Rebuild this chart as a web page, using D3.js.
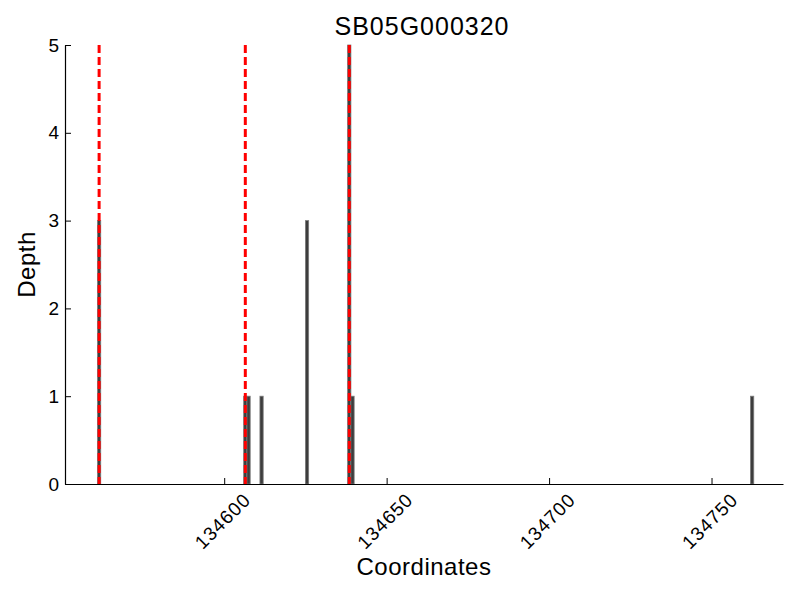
<!DOCTYPE html>
<html>
<head>
<meta charset="utf-8">
<script src="https://cdn.jsdelivr.net/npm/d3@7"></script>
<style>
  body { margin: 0; background: #fff; }
  text { font-family: "Liberation Sans", Arial, sans-serif; }
</style>
</head>
<body>
<svg id="chart" width="800" height="600"></svg>
<script>
const title = "SB05G000320";
const positions = [134561, 134606, 134607, 134611, 134625, 134638, 134639, 134762];
const depths    = [3, 1, 1, 1, 3, 5, 1, 1];
const markerPositions = [134561.5, 134606.5, 134638.5];
const xTicks = [134600, 134650, 134700, 134750];
const yTicks = [0, 1, 2, 3, 4, 5];
const xDomain = [134551, 134772];
const yDomain = [0, 5];

const svg = d3.select("#chart");
const margin = {left: 65, right: 17, top: 45, bottom: 116};
const W = 800, H = 600;

const x = d3.scaleLinear().domain(xDomain).range([margin.left, W - margin.right]);
const y = d3.scaleLinear().domain(yDomain).range([H - margin.bottom, margin.top]);

const data = positions.map((p, i) => ({pos: p, depth: depths[i]}));

// bars
svg.append("g").selectAll("rect").data(data).join("rect")
  .attr("x", d => x(d.pos))
  .attr("width", d => x(d.pos + 1) - x(d.pos))
  .attr("y", d => y(d.depth))
  .attr("height", d => y(0) - y(d.depth))
  .attr("fill", "#3d3d3d")
  .attr("stroke", "#7a7a7a")
  .attr("stroke-width", 0.8);

// red dashed marker lines
svg.append("g").selectAll("line").data(markerPositions).join("line")
  .attr("x1", d => x(d)).attr("x2", d => x(d))
  .attr("y1", y(yDomain[1])).attr("y2", y(0))
  .attr("stroke", "#ff0000")
  .attr("stroke-width", 3)
  .attr("stroke-dasharray", "8,4");

// x axis
const gx = svg.append("g")
  .attr("transform", `translate(0,${y(0)})`)
  .call(d3.axisBottom(x).tickValues(xTicks).tickFormat(d3.format("d"))
        .tickSizeInner(-6).tickSizeOuter(0));
gx.select(".domain").attr("stroke-width", 1.2);
gx.selectAll("text")
  .attr("font-size", 19)
  .attr("letter-spacing", "1px")
  .attr("fill", "#000")
  .attr("text-anchor", "middle")
  .attr("dominant-baseline", "central")
  .attr("y", 0).attr("dy", 0)
  .attr("transform", "translate(-2,37) rotate(-45)");

// y axis
const gy = svg.append("g")
  .attr("transform", `translate(${margin.left},0)`)
  .call(d3.axisLeft(y).tickValues(yTicks).tickFormat(d3.format("d"))
        .tickSizeInner(-6).tickSizeOuter(0).tickPadding(6));
gy.select(".domain").attr("stroke-width", 1.2);
gy.selectAll("text").attr("font-size", 19).attr("fill", "#000");

// title
svg.append("text")
  .attr("x", 422).attr("y", 35)
  .attr("text-anchor", "middle")
  .attr("font-size", 25)
  .attr("letter-spacing", "1px")
  .text(title);

// axis labels
svg.append("text")
  .attr("x", (margin.left + W - margin.right) / 2).attr("y", 575)
  .attr("text-anchor", "middle")
  .attr("font-size", 24)
  .attr("letter-spacing", "0.5px")
  .text("Coordinates");

svg.append("text")
  .attr("transform", `translate(35,${(y(0) + y(5)) / 2}) rotate(-90)`)
  .attr("text-anchor", "middle")
  .attr("font-size", 24)
  .attr("letter-spacing", "0.5px")
  .text("Depth");
</script>
</body>
</html>
